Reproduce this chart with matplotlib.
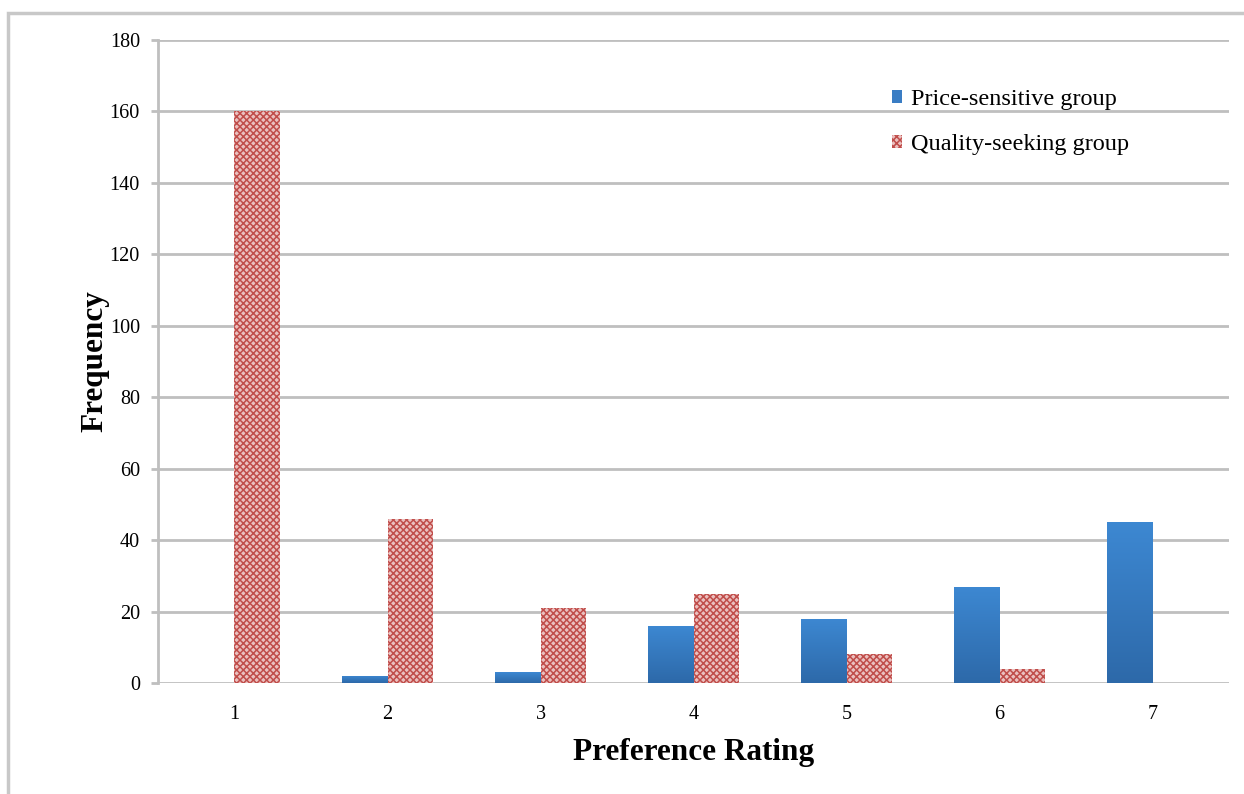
import matplotlib
matplotlib.use('Agg')
import matplotlib.pyplot as plt
import numpy as np
from matplotlib.patches import Rectangle, Patch

ratings = ['1', '2', '3', '4', '5', '6', '7']
price_sensitive = [0, 2, 3, 16, 18, 27, 45]
quality_seeking = [160, 46, 21, 25, 8, 4, 0]

plt.rcParams['font.family'] = ['Liberation Serif', 'DejaVu Serif']
plt.rcParams['hatch.linewidth'] = 1.1

fig = plt.figure(figsize=(12.44, 7.94), dpi=100)
ax = fig.add_axes([0.127, 0.1398, 0.861, 0.8098])

# light frame around the whole chart
fig.patches.append(Rectangle((8 / 1244, -0.1), 1.2, 0.1 + (794 - 13) / 794,
                             transform=fig.transFigure, fill=False,
                             edgecolor='#c8c8c8', linewidth=2.5))

x = np.arange(len(ratings))
w = 0.295

blue_bars = ax.bar(x - w / 2, price_sensitive, w, color='#3a7dc4', zorder=3)
# vertical shading on the blue bars, lighter at the top
grad = np.linspace(0, 1, 256).reshape(-1, 1)
cmap = matplotlib.colors.LinearSegmentedColormap.from_list('b', ['#3d88d2', '#2d69a9'])
for b in blue_bars:
    if b.get_height() <= 0:
        continue
    x0, y0 = b.get_x(), b.get_y()
    im = ax.imshow(grad, cmap=cmap, aspect='auto', zorder=3.5, origin='upper',
                   extent=(x0, x0 + b.get_width(), y0, y0 + b.get_height()))
    im.set_clip_path(b)

hatch_face = '#ebc0bf'
hatch_edge = '#c04d4a'
ax.bar(x + w / 2, quality_seeking, w, color=hatch_face, edgecolor=hatch_edge,
       hatch='xxxxx', linewidth=0, zorder=3)

ax.set_xlim(-0.5, len(ratings) - 0.5)
ax.set_ylim(0, 180)
ax.set_yticks(np.arange(0, 181, 20))
ax.set_xticks(x)
ax.set_xticklabels(ratings)
ax.grid(axis='y', color='#bfbfbf', linewidth=2, zorder=0)
for s in ['top', 'right', 'bottom']:
    ax.spines[s].set_visible(False)
ax.spines['left'].set_color('#bfbfbf')
ax.spines['left'].set_linewidth(2)
ax.tick_params(axis='y', length=5, width=2, color='#bfbfbf', labelsize=14.5, pad=8)
ax.tick_params(axis='x', length=0, labelsize=14.5, pad=16)

ax.set_xlabel('Preference Rating', fontsize=22.5, fontweight='bold', labelpad=10)
ax.set_ylabel('Frequency', fontsize=22.5, fontweight='bold', labelpad=0)

handles = [Patch(facecolor='#3a7dc4'),
           Patch(facecolor=hatch_face, edgecolor=hatch_edge, hatch='xxxxx', linewidth=0)]
ax.legend(handles, ['Price-sensitive group', 'Quality-seeking group'],
          loc='upper left', bbox_to_anchor=(0.665, 0.958), frameon=False,
          fontsize=17.5, handlelength=0.42, handleheight=0.42, handletextpad=0.35,
          labelspacing=1.0)

fig.savefig('out.png', dpi=100)
